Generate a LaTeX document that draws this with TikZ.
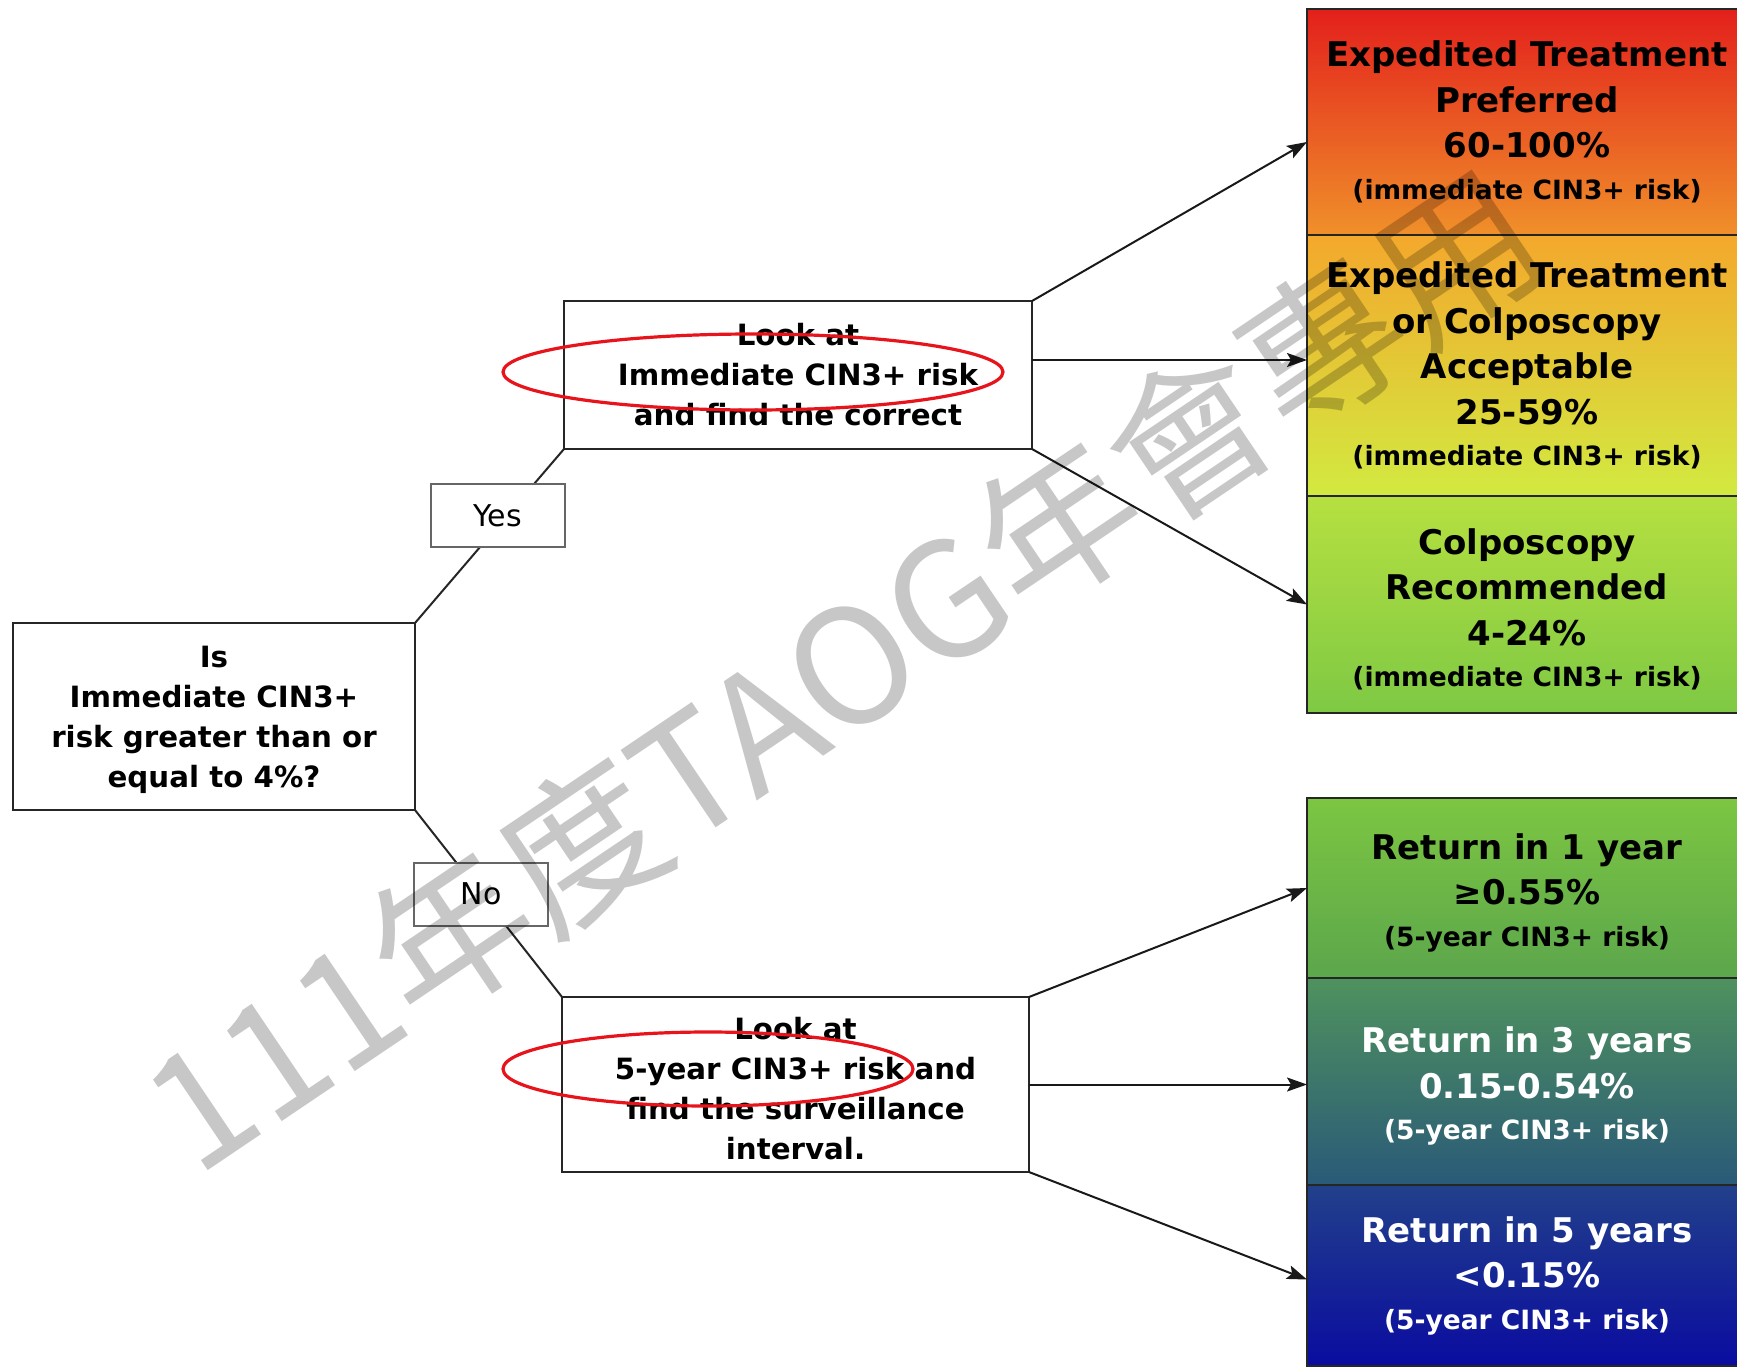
\documentclass[tikz,border=0pt]{standalone}
\usepackage{fontspec}
\setmainfont{DejaVu Sans}
\newfontfamily\wmfont{Noto Sans CJK TC}
\usepackage{tikz}
\usetikzlibrary{arrows.meta}

\definecolor{prefTop}{HTML}{E3201C}
\definecolor{prefBot}{HTML}{F0902A}
\definecolor{accTop}{HTML}{F4A82C}
\definecolor{accMid}{HTML}{FAF63A}
\definecolor{accBot}{HTML}{D2EA40}
\definecolor{recTop}{HTML}{B6E040}
\definecolor{recBot}{HTML}{7EC944}
\definecolor{oneTop}{HTML}{7CC642}
\definecolor{oneBot}{HTML}{5CA64C}
\definecolor{threeTop}{HTML}{4F925E}
\definecolor{threeMid}{HTML}{3B7669}
\definecolor{threeBot}{HTML}{2A5A78}
\definecolor{fiveTop}{HTML}{22408A}
\definecolor{fiveBot}{HTML}{0A0CA0}
\definecolor{ringred}{HTML}{E8141B}

\newcommand{\riskline}[1]{{\fontsize{26.5}{30}\selectfont #1}}
\newcommand{\firstpad}[1]{\rule{0pt}{#1}}

\tikzset{
  qbox/.style={draw=black!85, line width=2.5pt, fill=white, align=center, inner sep=0pt, outer sep=0pt,
    font=\bfseries\fontsize{29.3}{40}\selectfont},
  yesno/.style={draw=black!60, line width=2pt, fill=white, inner sep=0pt,
    minimum width=134pt, minimum height=63pt, font=\fontsize{30}{36}\selectfont},
  riskbox/.style={draw=black!85, line width=2pt, align=center, inner sep=0pt, outer sep=0pt,
    minimum width=440pt, font=\bfseries\fontsize{34}{45.5}\selectfont},
  link/.style={draw=black!85, line width=2pt},
  flow/.style={draw=black!90, line width=2pt, -{Stealth[length=20pt, width=14pt, inset=4pt]}},
  redring/.style={draw=ringred, line width=3.2pt}
}

\begin{document}
\begin{tikzpicture}[x=1pt, y=-1pt]
  \useasboundingbox (0,0) rectangle (1737,1368);
  \clip (0,0) rectangle (1737,1368);

  \node[qbox, minimum width=402pt, minimum height=187pt] (isrisk) at (214,716.5)
    {\firstpad{29pt}Is\\Immediate CIN3+\\risk greater than or\\equal to 4\%?};
  \node[qbox, minimum width=468pt, minimum height=148pt] (lookimm) at (798,375)
    {Look at\\Immediate CIN3+ risk\\and find the correct};
  \node[qbox, minimum width=467pt, minimum height=175pt] (lookfive) at (795.5,1084.5)
    {\firstpad{31pt}Look at\\5-year CIN3+ risk and\\find the surveillance\\interval.};

  \node[riskbox, minimum height=226pt, top color=prefTop, bottom color=prefBot] (exppref) at (1527,122)
    {Expedited Treatment\\Preferred\\60-100\%\\[-4pt]\riskline{(immediate CIN3+ risk)}};
  \node[riskbox, minimum height=261pt, top color=accTop, middle color=accMid, bottom color=accBot] (expacc) at (1527,365.5)
    {Expedited Treatment\\or Colposcopy\\Acceptable\\25-59\%\\[-4pt]\riskline{(immediate CIN3+ risk)}};
  \node[riskbox, minimum height=217pt, top color=recTop, bottom color=recBot] (colporec) at (1527,604.5)
    {\firstpad{35pt}Colposcopy\\Recommended\\4-24\%\\[-4pt]\riskline{(immediate CIN3+ risk)}};

  \node[riskbox, minimum height=180pt, top color=oneTop, bottom color=oneBot] (retone) at (1527,888)
    {\firstpad{35pt}Return in 1 year\\≥0.55\%\\[-4pt]\riskline{(5-year CIN3+ risk)}};
  \node[riskbox, minimum height=207pt, top color=threeTop, middle color=threeMid, bottom color=threeBot, text=white] (retthree) at (1527,1081.5)
    {\firstpad{35pt}Return in 3 years\\0.15-0.54\%\\[-4pt]\riskline{(5-year CIN3+ risk)}};
  \node[riskbox, minimum height=181pt, top color=fiveTop, bottom color=fiveBot, text=white] (retfive) at (1527,1275.5)
    {Return in 5 years\\<0.15\%\\[-4pt]\riskline{(5-year CIN3+ risk)}};

  \draw[link] (isrisk.north east) -- (lookimm.south west)
    node[yesno, pos=0.615, xshift=-9pt] (yes) {Yes};
  \draw[link] (isrisk.south east) -- (lookfive.north west)
    node[yesno, pos=0.45] (no) {No};

  \draw[flow] (lookimm.north east) -- ([yshift=-20pt]exppref.west);
  \draw[flow] ([yshift=15pt]lookimm.east) -- ([yshift=15pt]lookimm.east -| expacc.west);
  \draw[flow] (lookimm.south east) -- (colporec.west);
  \draw[flow] (lookfive.north east) -- (retone.west);
  \draw[flow] (lookfive.east) -- (lookfive.east -| retthree.west);
  \draw[flow] (lookfive.south east) -- ([yshift=-4pt]retfive.west);

  \draw[redring] (753,372) ellipse [x radius=250, y radius=38];
  \draw[redring] (708,1069) ellipse [x radius=205, y radius=37];

  \node[rotate=34, text=black, text opacity=0.22, inner sep=0pt, font=\wmfont\fontsize{160}{160}\selectfont] (wmark) at (842,670)
    {111年度TAOG年會專用};
\end{tikzpicture}
\end{document}
